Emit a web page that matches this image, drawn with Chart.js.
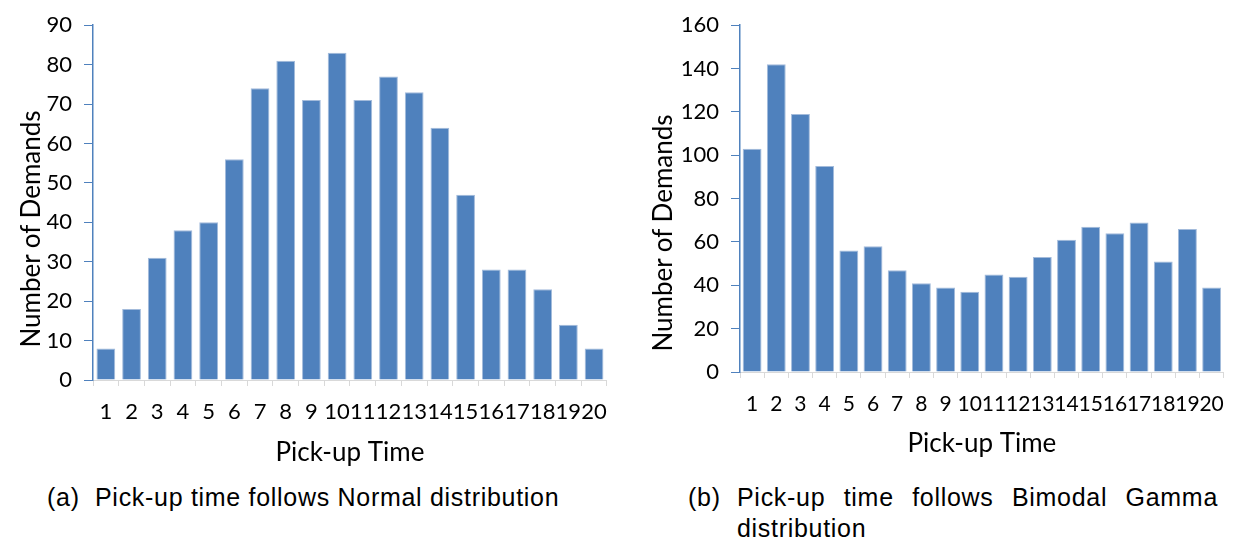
<!DOCTYPE html>
<html>
<head>
<meta charset="utf-8">
<script src="https://cdn.jsdelivr.net/npm/chart.js@4"></script>
<style>
  body { margin: 0; background: #fff; width: 1238px; height: 540px; position: relative; overflow: hidden; }
  canvas { position: absolute; top: 0; }
  .ytitle { position: absolute; width: 320px; text-align: center; font: 26px Lato, sans-serif; color: #000;
            line-height: 30px; transform: rotate(-90deg); white-space: nowrap; }
  .cap { position: absolute; font: 25px "Liberation Sans", Arial, sans-serif; letter-spacing: 0.7px; color: #000; line-height: 31px; }
</style>
</head>
<body>
<canvas id="normalChart" width="620" height="470" style="left:0"></canvas>
<canvas id="gammaChart" width="618" height="462" style="left:620px"></canvas>

<div class="ytitle" style="left:-130px; top:214px">Number of Demands</div>
<div class="ytitle" style="left:502px; top:218px">Number of Demands</div>

<div class="cap" style="left:47px; top:482px">(a)</div>
<div class="cap" style="left:95px; top:482px">Pick-up time follows Normal distribution</div>
<div class="cap" style="left:688px; top:482px">(b)</div>
<div class="cap" style="left:737px; top:482px; width:481px; text-align:justify; text-align-last:left">Pick-up time follows Bimodal Gamma distribution</div>

<script>
// pick-up time slots
var slots = ["1","2","3","4","5","6","7","8","9","10","11","12","13","14","15","16","17","18","19","20"];
// demands per slot, normal case
var normalDemands = [8,18,31,38,40,56,74,81,71,83,71,77,73,64,47,28,28,23,14,8];
// demands per slot, bimodal gamma case
var gammaDemands = [103,142,119,95,56,58,47,41,39,37,45,44,53,61,67,64,69,51,66,39];

var barBlue = "#4f81bd";

function demandChart(id, values, yMax, yStep, opts) {
  new Chart(id, {
    type: "bar",
    data: {
      labels: slots,
      datasets: [{
        data: values,
        backgroundColor: barBlue,
        borderColor: "#a3bbdb",
        borderWidth: 1,
        categoryPercentage: 1,
        barPercentage: opts.barPct
      }]
    },
    options: {
      responsive: false,
      animation: false,
      layout: { padding: { top: opts.top, right: opts.right, left: 0, bottom: 0 } },
      plugins: { legend: { display: false }, tooltip: { enabled: false } },
      scales: {
        x: {
          afterFit: function(scale) { scale.height = opts.xHeight; },
          grid: { drawOnChartArea: false, offset: true, tickLength: 6, color: "#d9d9d9" },
          border: { color: "#d9d9d9", width: 1 },
          ticks: { autoSkip: false, maxRotation: 0, padding: opts.xPad, color: "#000",
                   font: { family: "Lato", size: opts.tickSize } },
          title: { display: true, text: "Pick-up Time", color: "#000",
                   font: { family: "Lato", size: 26 }, padding: { top: 0, bottom: opts.titlePad } }
        },
        y: {
          min: 0,
          max: yMax,
          afterFit: function(scale) { scale.width = opts.yWidth; },
          grid: { drawOnChartArea: false, tickLength: 9, color: barBlue },
          border: { color: barBlue, width: 1.5 },
          ticks: { stepSize: yStep, padding: 12, color: "#000", font: { family: "Lato", size: 22 } }
        }
      }
    }
  });
}

demandChart("normalChart", normalDemands, 90, 10,
  { barPct: 0.73, top: 19, right: 7, xHeight: 90, xPad: 13, titlePad: 2, yWidth: 93, tickSize: 22 });
demandChart("gammaChart", gammaDemands, 160, 20,
  { barPct: 0.78, top: 18, right: 8, xHeight: 90, xPad: 14, titlePad: 3, yWidth: 120, tickSize: 21 });
</script>
</body>
</html>
